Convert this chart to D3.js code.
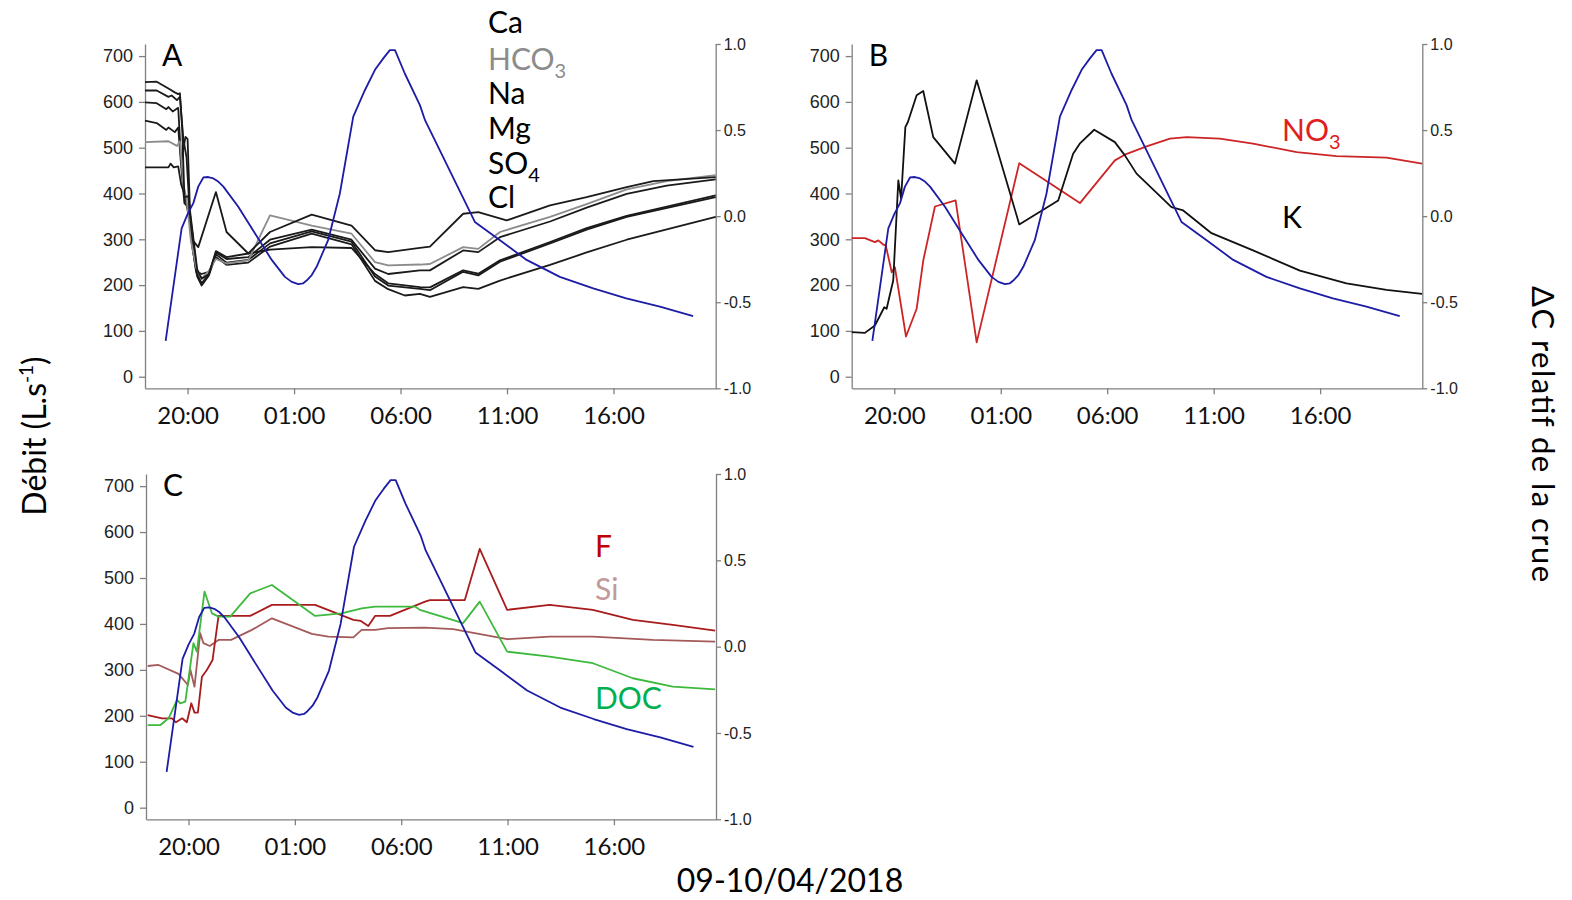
<!DOCTYPE html>
<html><head><meta charset="utf-8">
<script src="https://cdn.jsdelivr.net/npm/d3@7/dist/d3.min.js"></script>
<style>body{margin:0;background:#fff}svg{display:block}</style>
</head><body>
<svg id="chart" width="1572" height="900"></svg>
<script>
// ---- DATA (time in hours from 09/04/2018 00:00) ----
const xTickHours = [20, 25, 30, 35, 40];
const xTickLabels = ["20:00", "01:00", "06:00", "11:00", "16:00"];
const leftTicks = [0, 100, 200, 300, 400, 500, 600, 700];
const rightTicks = [1.0, 0.5, 0.0, -0.5, -1.0];
const rightTickLabels = ["1.0", "0.5", "0.0", "-0.5", "-1.0"];
const dateLabel = "09-10/04/2018";

// Débit (L/s)
const discharge = [[18.97,78],[19.72,324],[20.0,355],[20.27,379],[20.5,415],[20.74,435],[20.97,436],[21.21,433],[21.44,426],[21.68,415],[22.38,371],[23.16,313],[23.95,255],[24.57,218],[24.89,207],[25.2,202],[25.43,204],[25.59,210],[25.83,222],[26.06,240],[26.6,298],[27.15,400],[27.78,568],[28.33,626],[28.8,670],[29.19,695],[29.5,713],[29.74,713],[30.2,662],[30.91,593],[31.15,560],[33.49,338],[34.67,298],[35.92,255],[37.48,218],[39.05,193],[40.6,171],[42.18,153],[43.74,132.5]];

// Panel A (ΔC relatif)
const ca = [[18,0.778],[18.55,0.781],[19.1,0.741],[19.4,0.719],[19.56,0.709],[19.64,0.714],[19.75,0.501],[19.85,0.110],[20.03,0.116],[20.2,-0.057],[20.45,-0.310],[20.66,-0.363],[21.0,-0.336],[21.33,-0.203],[21.83,-0.238],[22.85,-0.217],[23.87,-0.092],[25.83,0.009],[27.7,-0.055],[28.8,-0.198],[29.42,-0.209],[30.91,-0.184],[31.38,-0.177],[32.94,0.014],[33.65,0.023],[34.98,-0.025],[37.02,0.063],[38.74,0.110],[40.62,0.169],[41.87,0.203],[44.8,0.227]];
const hco3 = [[18,0.430],[19.1,0.435],[19.5,0.408],[19.64,0.435],[19.8,0.182],[19.95,0.102],[20.15,-0.137],[20.4,-0.297],[20.66,-0.363],[21.0,-0.318],[21.33,-0.249],[21.83,-0.275],[22.85,-0.257],[23.87,0.004],[25.83,-0.055],[27.7,-0.102],[28.8,-0.267],[29.42,-0.286],[30.91,-0.281],[31.38,-0.278],[32.94,-0.180],[33.65,-0.190],[34.67,-0.092],[37.02,-0.004],[38.74,0.070],[40.62,0.156],[42.5,0.203],[44.8,0.238]];
const na = [[18,0.730],[18.55,0.730],[19.1,0.693],[19.25,0.701],[19.5,0.674],[19.64,0.693],[19.8,0.448],[19.95,0.342],[20.1,0.023],[20.27,-0.145],[20.5,-0.180],[21.33,0.140],[21.83,-0.092],[22.85,-0.217],[23.87,-0.195],[25.83,-0.180],[27.7,-0.185],[28.8,-0.336],[29.42,-0.390],[30.91,-0.412],[31.38,-0.414],[32.94,-0.315],[33.65,-0.334],[34.67,-0.257],[37.02,-0.150],[38.74,-0.070],[40.62,0.001],[44.8,0.121]];
const mg = [[18,0.661],[18.55,0.656],[19.0,0.621],[19.1,0.634],[19.3,0.608],[19.56,0.629],[19.7,0.315],[19.9,0.461],[20.0,0.448],[20.15,-0.110],[20.4,-0.323],[20.66,-0.390],[21.0,-0.336],[21.33,-0.211],[21.83,-0.249],[22.85,-0.238],[23.87,-0.137],[25.83,-0.078],[27.7,-0.137],[28.8,-0.305],[29.42,-0.336],[30.91,-0.315],[31.38,-0.315],[32.94,-0.199],[33.65,-0.209],[34.67,-0.122],[37.02,-0.031],[38.74,0.049],[40.62,0.129],[42.5,0.177],[44.8,0.214]];
const so4 = [[18,0.555],[18.55,0.541],[19.0,0.501],[19.1,0.515],[19.4,0.488],[19.56,0.515],[19.7,0.289],[19.85,0.076],[20.05,0.049],[20.2,-0.164],[20.45,-0.350],[20.66,-0.403],[21.0,-0.344],[21.33,-0.222],[21.83,-0.270],[22.85,-0.254],[23.87,-0.158],[25.83,-0.089],[27.7,-0.148],[28.8,-0.350],[29.42,-0.403],[30.91,-0.422],[31.38,-0.430],[32.94,-0.323],[33.65,-0.344],[34.67,-0.265],[37.02,-0.158],[38.74,-0.078],[40.62,-0.004],[44.8,0.110]];
const cl = [[18,0.283],[18.55,0.283],[19.1,0.283],[19.2,0.305],[19.35,0.283],[19.56,0.289],[19.7,0.182],[19.85,0.129],[20.0,0.036],[20.2,-0.084],[20.45,-0.323],[20.66,-0.336],[21.0,-0.323],[21.33,-0.238],[21.83,-0.283],[22.85,-0.270],[23.87,-0.177],[25.83,-0.102],[27.7,-0.164],[28.8,-0.376],[29.42,-0.424],[30.2,-0.461],[30.91,-0.451],[31.38,-0.469],[32.94,-0.412],[33.65,-0.422],[34.67,-0.374],[37.02,-0.283],[38.74,-0.211],[40.62,-0.137],[44.8,-0.004]];

// Panel B
const kB = [[18.0,-0.674],[18.62,-0.678],[19.09,-0.635],[19.53,-0.529],[19.64,-0.538],[19.95,-0.374],[20.19,0.208],[20.32,0.101],[20.52,0.517],[20.64,0.547],[21.05,0.702],[21.36,0.727],[21.83,0.459],[22.85,0.305],[23.87,0.789],[25.87,-0.048],[27.7,0.091],[28.4,0.363],[28.71,0.421],[29.39,0.502],[30.36,0.430],[30.83,0.353],[31.38,0.247],[33.02,0.052],[33.57,0.033],[34.9,-0.099],[36.85,-0.199],[39.05,-0.316],[41.24,-0.390],[43.12,-0.428],[44.79,-0.451]];
const no3 = [[18.0,-0.128],[18.62,-0.128],[19.09,-0.151],[19.25,-0.141],[19.48,-0.165],[19.6,-0.170],[19.88,-0.326],[20.03,-0.297],[20.55,-0.699],[21.05,-0.538],[21.36,-0.258],[21.91,0.056],[22.88,0.091],[23.87,-0.733],[25.87,0.308],[28.72,0.076],[30.36,0.324],[30.83,0.357],[31.85,0.405],[32.95,0.450],[33.73,0.459],[35.29,0.450],[36.85,0.421],[38.9,0.372],[40.77,0.349],[43.12,0.340],[44.79,0.305]];

// Panel C
const fC = [[18.08,-0.396],[18.75,-0.415],[19.22,-0.415],[19.41,-0.438],[19.7,-0.415],[19.92,-0.438],[20.13,-0.328],[20.28,-0.382],[20.44,-0.382],[20.63,-0.174],[20.86,-0.135],[21.13,-0.077],[21.41,0.178],[22.9,0.178],[23.92,0.242],[25.95,0.242],[27.75,0.155],[28.1,0.149],[28.45,0.120],[28.77,0.178],[29.47,0.178],[31.12,0.261],[31.35,0.270],[32.99,0.270],[33.69,0.566],[34.98,0.213],[36.98,0.242],[39.01,0.213],[40.89,0.155],[42.77,0.126],[44.76,0.093]];
const siC = [[18.08,-0.112],[18.59,-0.106],[19.53,-0.158],[19.97,-0.222],[20.09,-0.135],[20.28,-0.232],[20.55,0.078],[20.7,0.020],[21.0,0.004],[21.41,0.039],[22.0,0.039],[22.98,0.097],[23.92,0.164],[25.8,0.074],[26.57,0.058],[27.75,0.054],[28.14,0.097],[28.77,0.097],[29.39,0.107],[31.12,0.110],[32.44,0.101],[34.98,0.043],[36.98,0.058],[39.01,0.058],[41.83,0.039],[44.76,0.029]];
const docC = [[18.08,-0.454],[18.68,-0.454],[19.06,-0.415],[19.46,-0.309],[19.61,-0.328],[19.85,-0.319],[20.23,0.020],[20.39,-0.029],[20.75,0.319],[21.1,0.193],[21.41,0.174],[21.96,0.174],[22.9,0.309],[23.92,0.357],[25.95,0.178],[27.2,0.193],[28.14,0.222],[28.77,0.232],[30.65,0.232],[30.88,0.213],[32.91,0.136],[33.69,0.261],[34.98,-0.029],[36.98,-0.058],[39.01,-0.096],[40.89,-0.183],[42.77,-0.232],[44.76,-0.247]];

// ---- DRAWING ----
const svg = d3.select("#chart");
const t0 = Date.UTC(2018, 3, 9, 0, 0);
const toDate = h => new Date(t0 + h * 3600e3);
const xDomain = [toDate(18), toDate(44.8)];

const panels = [
  {name:"A", left:145, right:715.7, top:44, bottom:388.3,
   series:[{d:cl,c:"#1a1a1a"},{d:so4,c:"#1a1a1a"},{d:mg,c:"#1a1a1a"},{d:na,c:"#1a1a1a"},{d:hco3,c:"#8c8c8c"},{d:ca,c:"#1a1a1a"}]},
  {name:"B", left:851.7, right:1422.3, top:44, bottom:388.3,
   series:[{d:no3,c:"#cc2525"},{d:kB,c:"#111111"}]},
  {name:"C", left:146, right:716, top:474, bottom:819.3,
   series:[{d:siC,c:"#a45a58"},{d:fC,c:"#a81c1c"},{d:docC,c:"#3dba3d"}]}
];

const axisColor = "#808080";
panels.forEach(p => {
  const g = svg.append("g");
  const x = d3.scaleUtc().domain(xDomain).range([p.left, p.right]);
  const yL = d3.scaleLinear().domain([-25.3, 726.4]).range([p.bottom, p.top]);
  const yR = d3.scaleLinear().domain([-1, 1]).range([p.bottom, p.top]);

  const ax = g.append("g").attr("transform", `translate(0,${p.bottom})`)
    .call(d3.axisBottom(x).tickValues(xTickHours.map(toDate))
      .tickFormat((d,i) => xTickLabels[i]).tickSize(6).tickSizeOuter(0).tickPadding(7));
  ax.selectAll("text").attr("font-family","Lato").attr("font-size",24).attr("fill","#111").attr("dy","0.95em");

  const al = g.append("g").attr("transform", `translate(${p.left},0)`)
    .call(d3.axisLeft(yL).tickValues(leftTicks).tickSize(6).tickSizeOuter(0).tickPadding(6));
  al.selectAll("text").attr("font-family","Liberation Sans").attr("font-size",18).attr("fill","#222");

  const ar = g.append("g").attr("transform", `translate(${p.right},0)`)
    .call(d3.axisRight(yR).tickValues(rightTicks).tickFormat((d,i) => rightTickLabels[i]).tickSize(5).tickSizeOuter(0).tickPadding(3));
  ar.selectAll("text").attr("font-family","Liberation Sans").attr("font-size",16).attr("fill","#222");

  [ax, al, ar].forEach(a => {
    a.selectAll(".domain, line").attr("stroke", axisColor).attr("stroke-width", 1.3);
  });

  const lineR = d3.line().x(d => x(toDate(d[0]))).y(d => yR(d[1]));
  const lineL = d3.line().x(d => x(toDate(d[0]))).y(d => yL(d[1]));

  p.series.forEach(s => {
    g.append("path").datum(s.d).attr("d", lineR).attr("fill","none")
      .attr("stroke", s.c).attr("stroke-width", 1.8).attr("stroke-linejoin","round");
  });
  g.append("path").datum(discharge).attr("d", lineL).attr("fill","none")
    .attr("stroke", "#1c1ca6").attr("stroke-width", 1.8).attr("stroke-linejoin","round");

  g.append("text").attr("x", p.left + 17).attr("y", p.top + 22)
    .attr("font-family","Lato").attr("font-size",30).attr("fill","#000").text(p.name);
});

// legends
function legend(x, y, label, sub, color) {
  const t = svg.append("text").attr("x", x).attr("y", y).attr("font-family","Lato")
    .attr("font-size", 30).attr("fill", color).text(label);
  if (sub) t.append("tspan").attr("font-size", 20).attr("dy", 8).text(sub);
}
legend(488, 33, "Ca", null, "#000");
legend(488, 70, "HCO", "3", "#8c8c8c");
legend(488, 104, "Na", null, "#000");
legend(488, 139, "Mg", null, "#000");
legend(488, 174, "SO", "4", "#000");
legend(488, 208, "Cl", null, "#000");
legend(1282, 141, "NO", "3", "#e02020");
legend(1282, 228, "K", null, "#000");
legend(595, 557, "F", null, "#c00000");
legend(595, 600, "Si", null, "#c29a9a");
legend(595, 709, "DOC", null, "#00b050");

// axis titles
svg.append("text").attr("x", 790).attr("y", 892).attr("text-anchor","middle")
  .attr("font-family","Lato").attr("font-size",32).attr("fill","#000").text(dateLabel);

const yt = svg.append("text").attr("transform","translate(46,436) rotate(-90)")
  .attr("text-anchor","middle").attr("font-family","Lato").attr("font-size",32).attr("fill","#000");
yt.append("tspan").text("Débit (L.s");
yt.append("tspan").attr("font-size",19).attr("dy",-13).text("-1");
yt.append("tspan").attr("dy",13).text(")");

svg.append("text").attr("transform","translate(1532,434) rotate(90)")
  .attr("text-anchor","middle").attr("font-family","Lato").attr("font-size",31).attr("fill","#000")
  .attr("textLength", 296).attr("lengthAdjust","spacing")
  .text("ΔC relatif de la crue");
</script>
</body></html>
